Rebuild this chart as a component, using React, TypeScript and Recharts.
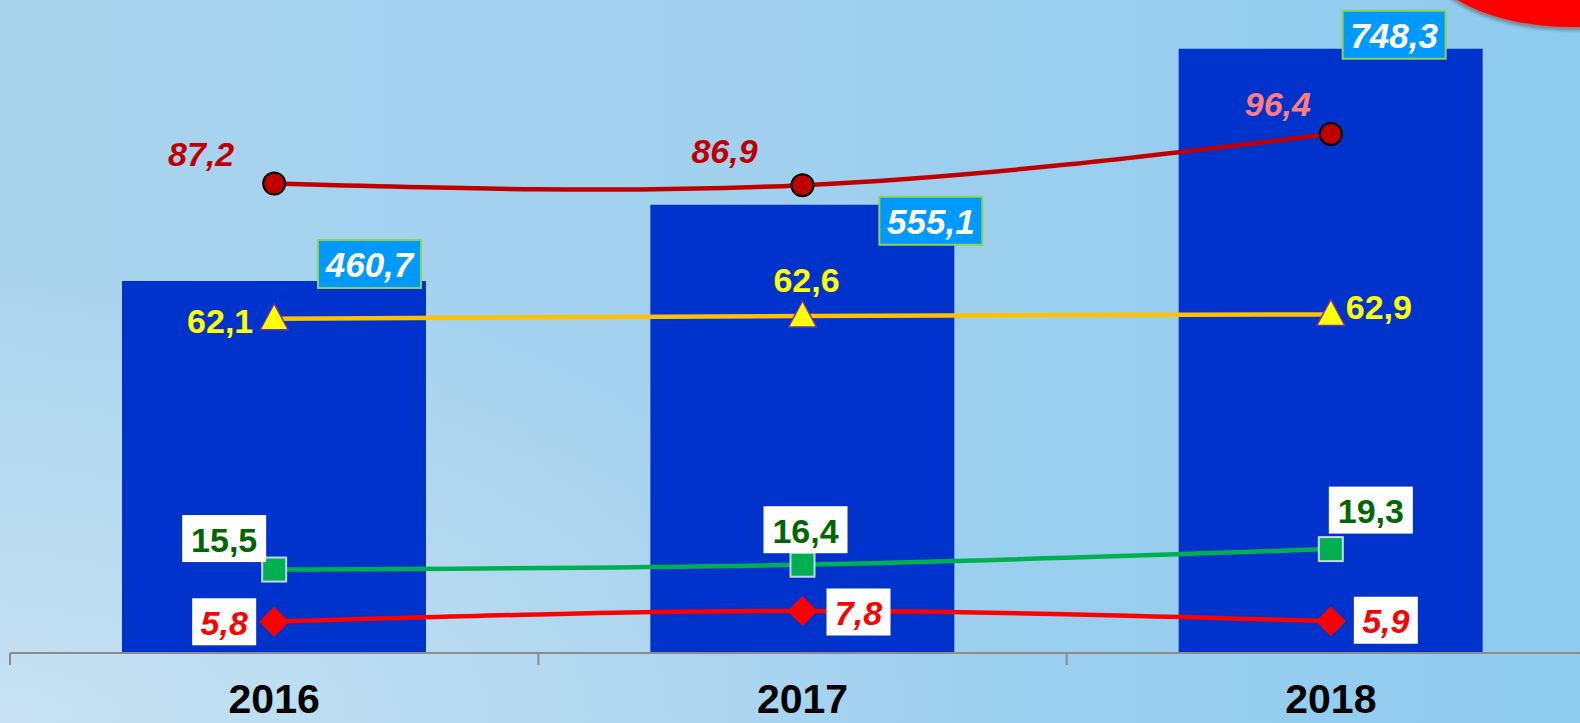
import { ComposedChart, Bar, Line, XAxis, YAxis, LabelList } from "recharts";

const years = ["2016", "2017", "2018"];
const totals = [460.7, 555.1, 748.3];
const circleSeries = [87.2, 86.9, 96.4];
const triangleSeries = [62.1, 62.6, 62.9];
const squareSeries = [15.5, 16.4, 19.3];
const diamondSeries = [5.8, 7.8, 5.9];

const data = years.map((year, i) => ({
  year,
  total: totals[i],
  circle: circleSeries[i],
  triangle: triangleSeries[i],
  square: squareSeries[i],
  diamond: diamondSeries[i],
}));

// layout
const W = 1600;
const H = 723;
const TOP = 7;
const LEFT = 10;
const RIGHT = 5;
const AXIS_H = 70;
const PLOT_BOTTOM = H - AXIS_H;
const BAND = (W - LEFT - RIGHT) / years.length;
const FONT = "'Liberation Sans', Arial, sans-serif";

// label placement, relative to the point (or bar top-right corner)
const barLabelOffsets = [
  [-5, 7],
  [28, 40],
  [-37, 10],
];
const circleOffsets = [
  [-73, -30],
  [-78, -34],
  [-53, -30],
];
const circleLabelColors = ["#c00000", "#c00000", "#ff7c80"];
const triangleOffsets = [
  [-54, 2],
  [4, -36],
  [48, -7],
];
const squareOffsets = [
  [-50, -31],
  [3, -35],
  [40, -39],
];
const diamondOffsets = [
  [-50, 0],
  [56, 1],
  [55, -1],
];

const fmt = (v: number) => v.toFixed(1).replace(".", ",");

const BarLabel = (props: any) => {
  const { x, y, width, value, index } = props;
  const [dx, dy] = barLabelOffsets[index];
  const bw = 103;
  const bh = 48;
  const bx = x + width + dx - bw;
  const by = y + dy - bh;
  return (
    <g>
      <rect x={bx} y={by} width={bw} height={bh} fill="#0099ff" stroke="#92d050" strokeWidth={2} />
      <text
        x={bx + bw / 2}
        y={by + bh / 2 + 1}
        textAnchor="middle"
        dominantBaseline="central"
        fill="#fff"
        fontSize={35}
        fontWeight="bold"
        fontStyle="italic"
        fontFamily={FONT}
      >
        {fmt(value)}
      </text>
    </g>
  );
};

const plainLabel =
  (offsets: number[][], colors: string[], italic: boolean) => (props: any) => {
    const { x, y, value, index } = props;
    const [dx, dy] = offsets[index];
    return (
      <text
        x={x + dx}
        y={y + dy}
        textAnchor="middle"
        dominantBaseline="central"
        fill={colors[index]}
        fontSize={34}
        fontWeight="bold"
        fontStyle={italic ? "italic" : "normal"}
        fontFamily={FONT}
      >
        {fmt(value)}
      </text>
    );
  };

const boxLabel =
  (offsets: number[][], color: string, italic: boolean, bw: number) => (props: any) => {
    const { x, y, value, index } = props;
    const [dx, dy] = offsets[index];
    const cx = x + dx;
    const cy = y + dy;
    const bh = 47;
    return (
      <g>
        <rect x={cx - bw / 2} y={cy - bh / 2} width={bw} height={bh} fill="#fff" />
        <text
          x={cx}
          y={cy + 1}
          textAnchor="middle"
          dominantBaseline="central"
          fill={color}
          fontSize={34}
          fontWeight="bold"
          fontStyle={italic ? "italic" : "normal"}
          fontFamily={FONT}
        >
          {fmt(value)}
        </text>
      </g>
    );
  };

const CircleDot = (props: any) => (
  <circle key={props.index} cx={props.cx} cy={props.cy} r={11} fill="#c00000" stroke="#000" strokeWidth={2} />
);

const TriangleDot = (props: any) => {
  const { cx, cy, index } = props;
  return (
    <polygon
      key={index}
      points={`${cx},${cy - 15} ${cx + 14},${cy + 11} ${cx - 14},${cy + 11}`}
      fill="#ffff00"
      stroke="#7030a0"
      strokeWidth={1.5}
    />
  );
};

const SquareDot = (props: any) => (
  <rect
    key={props.index}
    x={props.cx - 12}
    y={props.cy - 12}
    width={24}
    height={24}
    fill="#00b050"
    stroke="#c5d5ea"
    strokeWidth={2}
  />
);

const DiamondDot = (props: any) => {
  const { cx, cy, index } = props;
  return (
    <polygon
      key={index}
      points={`${cx},${cy - 15} ${cx + 15},${cy} ${cx},${cy + 15} ${cx - 15},${cy}`}
      fill="#ff0000"
    />
  );
};

const YearTick = (props: any) => {
  const { x, payload, index } = props;
  return (
    <g>
      <line x1={x - BAND / 2} x2={x - BAND / 2} y1={PLOT_BOTTOM} y2={PLOT_BOTTOM + 12} stroke="#8c8c8c" strokeWidth={2} />
      {index === years.length - 1 && (
        <line x1={x + BAND / 2} x2={x + BAND / 2} y1={PLOT_BOTTOM} y2={PLOT_BOTTOM + 12} stroke="#8c8c8c" strokeWidth={2} />
      )}
      <text x={x} y={713} textAnchor="middle" fill="#000" fontSize={41} fontWeight="bold" fontFamily={FONT}>
        {payload.value}
      </text>
    </g>
  );
};

export default function App() {
  return (
    <div
      style={{
        position: "fixed",
        left: 0,
        top: 0,
        width: 1580,
        height: 723,
        overflow: "hidden",
        background:
          "radial-gradient(ellipse at 0% 100%, rgba(205,228,244,0.85) 0%, rgba(205,228,244,0) 45%), linear-gradient(to right, #a9d4ee 0%, #a2d1ee 45%, #8ecbef 100%)",
      }}
    >
      <div
        style={{
          position: "absolute",
          left: 1425,
          top: -115,
          width: 290,
          height: 140,
          borderRadius: "50%",
          background: "#ff0000",
          border: "2px solid #8a8a8a",
          boxShadow: "0 2px 3px rgba(0,0,0,0.25)",
        }}
      />
      <ComposedChart
        width={W}
        height={H}
        data={data}
        margin={{ top: TOP, right: RIGHT, left: LEFT, bottom: 0 }}
        style={{ position: "absolute", left: 0, top: 0 }}
      >
        <XAxis
          dataKey="year"
          height={AXIS_H}
          axisLine={{ stroke: "#8c8c8c", strokeWidth: 2 }}
          tickLine={false}
          tick={<YearTick />}
          interval={0}
        />
        <YAxis yAxisId="bars" domain={[0, 800]} hide />
        <YAxis yAxisId="lines" orientation="right" domain={[0, 120]} hide />
        <Bar yAxisId="bars" dataKey="total" fill="#0033cc" barSize={304} isAnimationActive={false}>
          <LabelList dataKey="total" content={<BarLabel />} />
        </Bar>
        <Line
          yAxisId="lines"
          type="natural"
          dataKey="circle"
          stroke="#c00000"
          strokeWidth={4.5}
          dot={<CircleDot />}
          isAnimationActive={false}
        >
          <LabelList dataKey="circle" content={plainLabel(circleOffsets, circleLabelColors, true)} />
        </Line>
        <Line
          yAxisId="lines"
          type="natural"
          dataKey="triangle"
          stroke="#ffc000"
          strokeWidth={4.5}
          dot={<TriangleDot />}
          isAnimationActive={false}
        >
          <LabelList dataKey="triangle" content={plainLabel(triangleOffsets, ["#ffff00", "#ffff00", "#ffff00"], false)} />
        </Line>
        <Line
          yAxisId="lines"
          type="natural"
          dataKey="square"
          stroke="#00b050"
          strokeWidth={4.5}
          dot={<SquareDot />}
          isAnimationActive={false}
        >
          <LabelList dataKey="square" content={boxLabel(squareOffsets, "#006600", false, 84)} />
        </Line>
        <Line
          yAxisId="lines"
          type="natural"
          dataKey="diamond"
          stroke="#ff0000"
          strokeWidth={4.5}
          dot={<DiamondDot />}
          isAnimationActive={false}
        >
          <LabelList dataKey="diamond" content={boxLabel(diamondOffsets, "#ff0000", true, 64)} />
        </Line>
      </ComposedChart>
    </div>
  );
}
